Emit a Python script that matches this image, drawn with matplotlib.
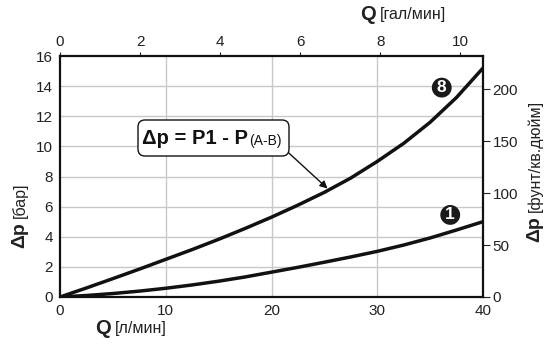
import matplotlib
matplotlib.use("Agg")
import matplotlib.pyplot as plt
from matplotlib.patches import FancyBboxPatch
from matplotlib.transforms import IdentityTransform
from matplotlib.text import Annotation

plt.rcParams['font.family'] = ['Liberation Sans', 'DejaVu Sans']

# Data
q_lpm = [0, 2.5, 5, 7.5, 10, 12.5, 15, 17.5, 20, 22.5, 25, 27.5, 30, 32.5, 35, 37.5, 40]
dp_curve8 = [0, 0.6, 1.22, 1.85, 2.5, 3.15, 3.83, 4.55, 5.3, 6.1, 6.95, 7.9, 9.0, 10.2, 11.6, 13.25, 15.2]
dp_curve1 = [0, 0.1, 0.23, 0.39, 0.58, 0.8, 1.05, 1.33, 1.65, 1.97, 2.31, 2.66, 3.03, 3.45, 3.92, 4.45, 5.0]
bottom_ticks = [0, 10, 20, 30, 40]
left_ticks = [0, 2, 4, 6, 8, 10, 12, 14, 16]
top_ticks = [0, 2, 4, 6, 8, 10]
right_ticks = [0, 50, 100, 150, 200]
LPM_PER_GPM = 3.785
PSI_PER_BAR = 14.5038

W, H = 550, 346
fig = plt.figure(figsize=(5.5, 3.46), dpi=100)
ax = fig.add_axes([60/W, 1-297/H, (483-60)/W, (297-56)/H])

ax.set_xlim(0, 40)
ax.set_ylim(0, 16)
ax.set_xticks(bottom_ticks)
ax.set_yticks(left_ticks)
for v in [10, 20, 30]:
    ax.axvline(v, color='#c8c8c8', lw=1.0, zorder=0)
for v in left_ticks[1:-1]:
    ax.axhline(v, color='#c8c8c8', lw=1.0, zorder=0)

ax.plot(q_lpm, dp_curve8, color='#111111', lw=2.5, solid_capstyle='round', solid_joinstyle='round', zorder=3)
ax.plot(q_lpm, dp_curve1, color='#111111', lw=2.5, solid_capstyle='round', solid_joinstyle='round', zorder=3)

for s in ax.spines.values():
    s.set_linewidth(1.6)
    s.set_color('#111111')

TICK = 11
ax.tick_params(axis='both', labelsize=TICK, colors='#222222', length=0, pad=5)

top = ax.secondary_xaxis('top', functions=(lambda x: x / LPM_PER_GPM, lambda g: g * LPM_PER_GPM))
top.set_xticks(top_ticks)
top.tick_params(labelsize=TICK, colors='#222222', length=3, width=0.8, pad=2)
top.spines['top'].set_visible(False)

right = ax.secondary_yaxis('right', functions=(lambda b: b * PSI_PER_BAR, lambda p: p / PSI_PER_BAR))
right.set_yticks(right_ticks)
right.tick_params(labelsize=TICK, colors='#222222', length=5, width=0.8, pad=2)
right.spines['right'].set_visible(False)

# Axis labels
fig.text(111/W, 1-329/H, 'Q', fontsize=14.5, fontweight='bold', color='#222222', ha='right', va='center')
fig.text(115/W, 1-329/H, '[л/мин]', fontsize=11.5, color='#222222', ha='left', va='center')
fig.text(376/W, 1-15/H, 'Q', fontsize=14.5, fontweight='bold', color='#222222', ha='right', va='center')
fig.text(380/W, 1-15/H, '[гал/мин]', fontsize=11.5, color='#222222', ha='left', va='center')

fig.text(20/W, 1-222/H, 'Δp', fontsize=14, fontweight='bold', color='#222222',
         rotation=90, rotation_mode='anchor', ha='right', va='center')
fig.text(20/W, 1-218/H, '[бар]', fontsize=11.5, color='#222222',
         rotation=90, rotation_mode='anchor', ha='left', va='center')
fig.text(535/W, 1-216/H, 'Δp', fontsize=14, fontweight='bold', color='#222222',
         rotation=90, rotation_mode='anchor', ha='right', va='center')
fig.text(535/W, 1-212/H, '[фунт/кв.дюйм]', fontsize=11.5, color='#222222',
         rotation=90, rotation_mode='anchor', ha='left', va='center')

# Annotation box and arrow
ax.annotate('', xy=(25.3, 7.2), xytext=(21.5, 9.65),
            arrowprops=dict(arrowstyle='-|>', color='#111111', lw=1.0, mutation_scale=11,
                            shrinkA=0, shrinkB=0), zorder=4)
box = FancyBboxPatch((138, H-156), 151, 36, boxstyle='round,pad=0,rounding_size=7',
                     transform=IdentityTransform(), fc='white', ec='#111111', lw=1.0, zorder=5)
fig.patches.append(box)
t1 = fig.text(142/W, 1-139/H, 'Δp = P1 - P', fontsize=14.5, fontweight='bold', color='#111111',
              ha='left', va='center', zorder=6)
sub = Annotation('(A-B)', xy=(1, 0), xycoords=t1, xytext=(0.5, 0.5), textcoords='offset points',
                 fontsize=10, color='#111111', ha='left', va='bottom', zorder=7)
fig.add_artist(sub)

# Curve markers
for (x, y, t) in [(36.1, 13.9, '8'), (36.9, 5.45, '1')]:
    ax.text(x, y, t, fontsize=12.5, fontweight='bold', color='white', ha='center', va='center', zorder=6,
            bbox=dict(boxstyle='circle,pad=0.14', fc='#1a1a1a', ec='none'))

fig.savefig('out.png', dpi=100)
